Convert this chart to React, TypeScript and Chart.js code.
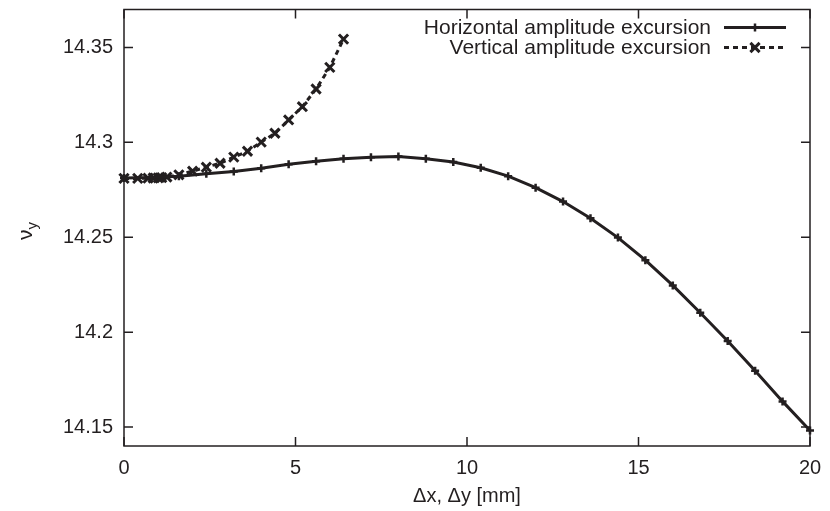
import React, { useEffect, useRef } from "react";
import { Chart, registerables } from "chart.js";

Chart.register(...registerables);

const xTicks = [0, 5, 10, 15, 20];
const yTicks = [14.15, 14.2, 14.25, 14.3, 14.35];

const horizLabel = "Horizontal amplitude excursion";
const horizX = [0, 0.8, 1.6, 2.4, 3.2, 4.0, 4.8, 5.6, 6.4, 7.2, 8.0, 8.8, 9.6, 10.4, 11.2, 12.0, 12.8, 13.6, 14.4, 15.2, 16.0, 16.8, 17.6, 18.4, 19.2, 20.0];
const horizY = [14.2812, 14.2815, 14.2822, 14.2834, 14.2847, 14.2864, 14.2884, 14.29, 14.2913, 14.2922, 14.2925, 14.2914, 14.2896, 14.2866, 14.2822, 14.2761, 14.2688, 14.26, 14.2498, 14.2379, 14.2246, 14.2102, 14.1953, 14.1797, 14.1635, 14.1482];

const vertLabel = "Vertical amplitude excursion";
const vertX = [0, 0.4, 0.7, 0.85, 1.0, 1.1, 1.25, 1.6, 2.0, 2.4, 2.8, 3.2, 3.6, 4.0, 4.4, 4.8, 5.2, 5.6, 6.0, 6.4];
const vertY = [14.281, 14.281, 14.2811, 14.2812, 14.2813, 14.2814, 14.2817, 14.2829, 14.2848, 14.2869, 14.289, 14.2922, 14.2953, 14.3001, 14.3048, 14.3118, 14.3188, 14.3281, 14.3395, 14.3544];

const INK = "#231f20";
const FONT = "'Liberation Sans', Arial, Helvetica, sans-serif";

function drawMarker(ctx: CanvasRenderingContext2D, style: string, x: number, y: number, r: number, w: number) {
  ctx.save();
  ctx.lineWidth = w;
  ctx.setLineDash([]);
  ctx.beginPath();
  if (style === "cross") {
    ctx.moveTo(x - r, y); ctx.lineTo(x + r, y);
    ctx.moveTo(x, y - r); ctx.lineTo(x, y + r);
  } else {
    const d = r * Math.SQRT1_2;
    ctx.moveTo(x - d, y - d); ctx.lineTo(x + d, y + d);
    ctx.moveTo(x - d, y + d); ctx.lineTo(x + d, y - d);
  }
  ctx.stroke();
  ctx.restore();
}

const framePlugin = {
  id: "gnuplotFrame",
  afterDraw(chart: any) {
    const { ctx, chartArea: a, scales } = chart;
    const xs = scales.x, ys = scales.y;
    ctx.save();
    ctx.strokeStyle = INK;
    ctx.lineWidth = 1.5;
    ctx.strokeRect(a.left, a.top, a.right - a.left, a.bottom - a.top);
    const tl = 9;
    ctx.beginPath();
    xs.ticks.forEach((t: any) => {
      const px = xs.getPixelForValue(t.value);
      ctx.moveTo(px, a.bottom); ctx.lineTo(px, a.bottom - tl);
      ctx.moveTo(px, a.top); ctx.lineTo(px, a.top + tl);
    });
    ys.ticks.forEach((t: any) => {
      const py = ys.getPixelForValue(t.value);
      ctx.moveTo(a.left, py); ctx.lineTo(a.left + tl, py);
      ctx.moveTo(a.right, py); ctx.lineTo(a.right - tl, py);
    });
    ctx.stroke();

    // legend
    const textRight = 711;
    const sampleL = 724, sampleR = 786;
    const rows = [27.5, 47.5];
    ctx.font = `21px ${FONT}`;
    ctx.fillStyle = INK;
    ctx.textAlign = "right";
    ctx.textBaseline = "middle";
    chart.data.datasets.forEach((ds: any, i: number) => {
      const cy = rows[i];
      ctx.fillText(ds.label, textRight, cy + 1);
      ctx.save();
      ctx.strokeStyle = ds.borderColor;
      ctx.lineWidth = ds.borderWidth;
      ctx.setLineDash(ds.borderDash || []);
      ctx.beginPath();
      ctx.moveTo(sampleL, cy); ctx.lineTo(sampleR, cy);
      ctx.stroke();
      ctx.restore();
      ctx.strokeStyle = ds.pointBorderColor;
      drawMarker(ctx, ds.pointStyle, (sampleL + sampleR) / 2, cy, ds.pointRadius, ds.pointBorderWidth);
    });

    // y-axis title: nu with subscript y
    ctx.save();
    ctx.translate(32, 240);
    ctx.rotate(-Math.PI / 2);
    ctx.textAlign = "left";
    ctx.textBaseline = "alphabetic";
    ctx.font = `21px ${FONT}`;
    ctx.fillText("ν", 0, 0);
    const w = ctx.measureText("ν").width;
    ctx.font = `15px ${FONT}`;
    ctx.fillText("y", w, 5);
    ctx.restore();

    ctx.restore();
  },
};

export default function App() {
  const ref = useRef<HTMLCanvasElement | null>(null);
  useEffect(() => {
    if (!ref.current) return;
    const chart = new Chart(ref.current, {
      type: "line",
      data: {
        datasets: [
          {
            label: horizLabel,
            data: horizX.map((x, i) => ({ x, y: horizY[i] })),
            borderColor: INK,
            borderWidth: 3,
            pointStyle: "cross",
            pointRadius: 4,
            pointBorderWidth: 2.5,
            pointBorderColor: INK,
            pointBackgroundColor: INK,
            tension: 0,
            fill: false,
            clip: false,
          } as any,
          {
            label: vertLabel,
            data: vertX.map((x, i) => ({ x, y: vertY[i] })),
            borderColor: INK,
            borderWidth: 3,
            borderDash: [5, 4],
            pointStyle: "crossRot",
            pointRadius: 6.5,
            pointBorderWidth: 3,
            pointBorderColor: INK,
            pointBackgroundColor: INK,
            tension: 0,
            fill: false,
            clip: false,
          } as any,
        ],
      },
      options: {
        animation: false,
        responsive: false,
        layout: { padding: { left: 0, right: 20, top: 9, bottom: 0 } },
        plugins: { legend: { display: false }, tooltip: { enabled: false } },
        scales: {
          x: {
            type: "linear",
            min: 0,
            max: 20,
            afterBuildTicks: (s: any) => { s.ticks = xTicks.map((v) => ({ value: v })); },
            afterFit: (s: any) => { s.height = 65; s.paddingLeft = 0; s.paddingRight = 0; },
            grid: { display: false, drawTicks: false },
            border: { display: false },
            ticks: {
              padding: 10,
              color: INK,
              font: { family: FONT, size: 20 },
              maxRotation: 0,
              callback: (v: any) => String(v),
            },
            title: {
              display: true,
              text: "Δx, Δy [mm]",
              color: INK,
              font: { family: FONT, size: 20 },
              padding: { top: 0, bottom: 3 },
            },
          },
          y: {
            type: "linear",
            min: 14.14,
            max: 14.37,
            afterBuildTicks: (s: any) => { s.ticks = yTicks.map((v) => ({ value: v })); },
            afterFit: (s: any) => { s.width = 124; s.paddingTop = 0; s.paddingBottom = 0; },
            grid: { display: false, drawTicks: false },
            border: { display: false },
            ticks: {
              padding: 11,
              color: INK,
              font: { family: FONT, size: 20 },
              callback: (v: any) => String(Math.round(v * 100) / 100),
            },
          },
        },
      } as any,
      plugins: [framePlugin],
    });
    return () => chart.destroy();
  }, []);
  return (
    <div style={{ position: "absolute", left: 0, top: 0, width: 830, height: 511, background: "#fff" }}>
      <canvas ref={ref} width={830} height={511} style={{ display: "block" }} />
    </div>
  );
}
